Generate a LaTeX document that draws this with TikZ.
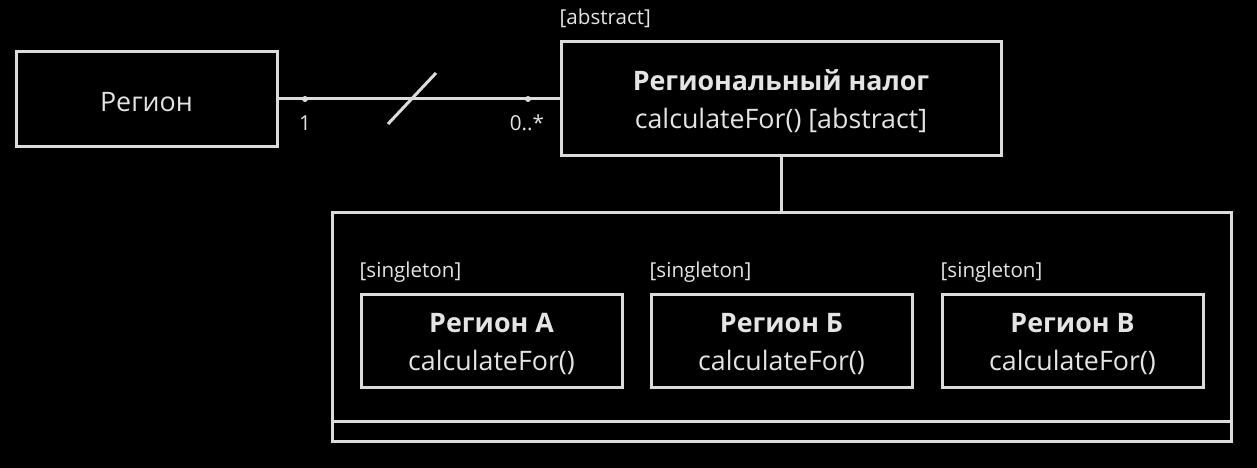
\documentclass[tikz,border=0pt]{standalone}
\usepackage{fontspec}
\setmainfont{Open Sans}
\usepackage{tikz}
\usetikzlibrary{positioning}
\definecolor{linegray}{RGB}{220,220,220}
\definecolor{textgray}{RGB}{228,228,228}
\newcommand{\topgap}{\rule{0pt}{26pt}}
\tikzstyle{classbox}=[rectangle,draw=linegray,line width=3pt,text=textgray,align=center,inner sep=0pt,font=\fontsize{26.8}{37.5}\selectfont]
\tikzstyle{groupbox}=[rectangle,draw=linegray,line width=3pt,minimum width=899pt,minimum height=229pt,inner sep=0pt]
\tikzstyle{tag}=[text=textgray,inner sep=0pt,font=\fontsize{20.6}{24}\selectfont]
\tikzstyle{undirectededge} = [draw,linegray,line width=3pt]
\tikzstyle{dot} = [fill=linegray]

\begin{document}
\begin{tikzpicture}[x=1pt,y=-1pt,auto]
  \fill[black] (0,0) rectangle (1257,468);
  \useasboundingbox (0,0) rectangle (1257,468);

  \node[classbox,minimum width=261pt,minimum height=94pt] (region) at (146.5,99) {\topgap Регион};
  \node[classbox,minimum width=440pt,minimum height=113pt] (tax) at (781,98.5) {\topgap\textbf{Региональный налог}\\calculateFor() [abstract]};
  \node[tag,anchor=base west] (abstracttag) at ([yshift=16pt]tax.north west) {[abstract]};

  \node[groupbox] (group) at (781.5,326.5) {};
  \draw[undirectededge] ([yshift=21pt]group.south west) -- ([yshift=21pt]group.south east);

  \foreach \pos/\name/\label in {{(491.5,340.5)/regA/А}, {(781.5,340.5)/regB/Б}, {(1072.5,340.5)/regC/В}}
     \node[classbox,minimum width=261pt,minimum height=93pt] (\name) at \pos {\topgap\textbf{Регион \label}\\calculateFor()};

  \foreach \name in {regA,regB,regC}
     \node[tag,anchor=base west] (\name tag) at ([yshift=15pt]\name.north west) {[singleton]};

  % association
  \coordinate (one) at (305,99);
  \coordinate (many) at (528,99);
  \path[undirectededge] (region.east) -- (tax.west |- region.east);
  \fill[dot] (one) circle (3pt);
  \fill[dot] (many) circle (3pt);
  \node[tag] (onelabel) at (305,123) {1};
  \node[tag] (manylabel) at (527,123) {0..*};
  \coordinate (slashlo) at (388,124);
  \coordinate (slashhi) at (436,73);
  \path[undirectededge] (slashlo) -- (slashhi);

  \path[undirectededge] (tax.south) -- (tax.south |- group.north);
\end{tikzpicture}
\end{document}
